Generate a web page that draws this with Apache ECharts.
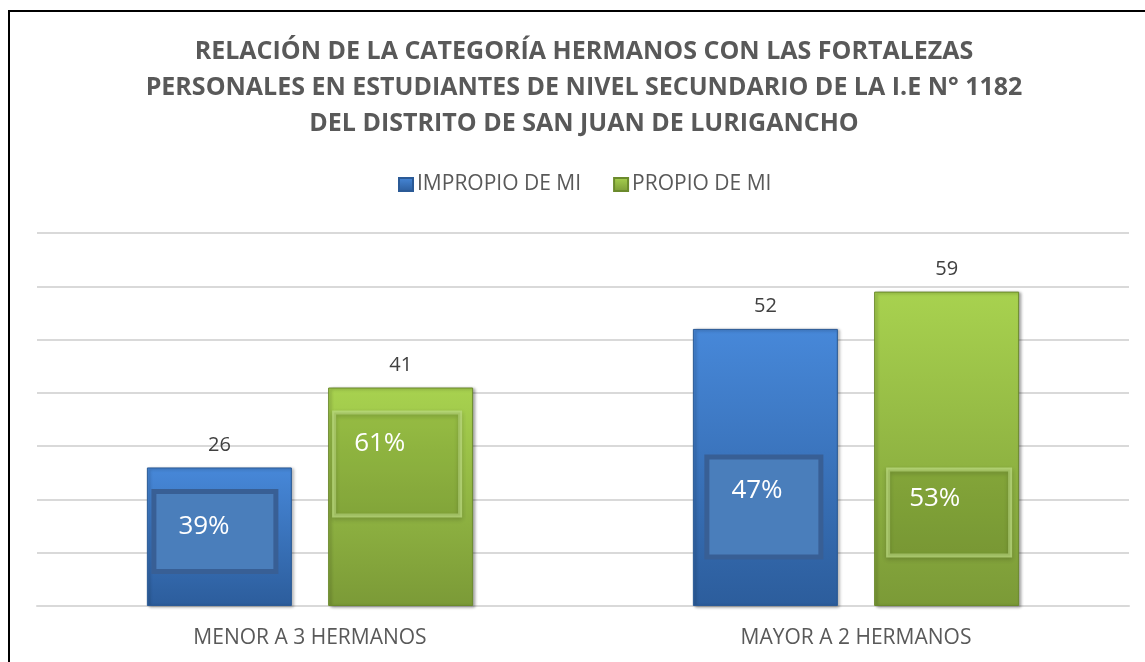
<!DOCTYPE html>
<html>
<head>
    <meta charset="UTF-8">
    <title>Hermanos y fortalezas personales</title>
    <script src="https://cdn.jsdelivr.net/npm/echarts@6/dist/echarts.min.js"></script>
    <style>
        html, body { margin: 0; padding: 0; background: #fff; }
    </style>
</head>
<body>
<div id="main" style="width: 1145px;height:662px;"></div>
<script type="text/javascript">
    // datos
    const categorias = ['MENOR A 3 HERMANOS', 'MAYOR A 2 HERMANOS'];
    const impropio = [26, 52];
    const propio = [41, 59];
    const impropioPct = ['39%', '47%'];
    const propioPct = ['61%', '53%'];

    // cajas de porcentaje (posicion relativa a la barra)
    const cajasImpropio = [
        {pos: [7, 24], w: 122, h: 80, pad: [18, 0, 0, 22]},
        {pos: [14, 128], w: 114, h: 100, pad: [16, 0, 0, 22]}
    ];
    const cajasPropio = [
        {pos: [5, 24], w: 128, h: 105, pad: [16, 0, 0, 20]},
        {pos: [13, 177], w: 124, h: 88, pad: [14, 0, 0, 21]}
    ];

    const FONT = '"Open Sans", "Noto Sans", sans-serif';

    function grad(top, bottom) {
        return new echarts.graphic.LinearGradient(0, 0, 0, 1, [
            {offset: 0, color: top},
            {offset: 1, color: bottom}
        ]);
    }

    function datosConCaja(valores, cajas, bw) {
        return valores.map((v, i) => {
            let c = cajas[i];
            return {
                value: v,
                label: {
                    position: [c.pos[0] + bw / 2, c.pos[1] + bw / 2],
                    width: c.w - bw - c.pad[1] - c.pad[3],
                    height: c.h - bw - c.pad[0] - c.pad[2],
                    padding: c.pad
                }
            };
        });
    }

    function etiquetasArriba(valores) {
        return valores.map((v, i) => ({coord: [i, v], value: v}));
    }

    var myChart = echarts.init(document.getElementById('main'));

    let option = {
        animation: false,
        backgroundColor: '#ffffff',
        textStyle: {fontFamily: FONT},
        graphic: [{
            type: 'rect',
            shape: {x: 9, y: 11, width: 1200, height: 700},
            style: {fill: 'none', stroke: '#000', lineWidth: 2},
            silent: true
        }],
        title: {
            text: 'RELACIÓN DE LA CATEGORÍA HERMANOS CON LAS FORTALEZAS\nPERSONALES EN ESTUDIANTES DE NIVEL SECUNDARIO DE LA I.E N° 1182\nDEL DISTRITO DE SAN JUAN DE LURIGANCHO',
            left: 584,
            top: 34,
            padding: 0,
            textAlign: 'center',
            textStyle: {
                fontFamily: FONT,
                fontWeight: 'bold',
                fontSize: 25,
                lineHeight: 36,
                color: '#595959'
            }
        },
        legend: {
            data: ['IMPROPIO DE MI', 'PROPIO DE MI'],
            left: 398,
            top: 174,
            padding: 0,
            itemWidth: 14,
            itemHeight: 13,
            itemGap: 32,
            icon: 'rect',
            textStyle: {fontFamily: FONT, fontSize: 21, color: '#595959', padding: [0, 0, 0, -1]}
        },
        grid: {left: 37, right: 16, top: 233, bottom: 56, containLabel: false},
        xAxis: {
            type: 'category',
            data: categorias,
            axisLine: {show: true, lineStyle: {color: '#d9d9d9', width: 2}},
            axisTick: {show: false},
            axisLabel: {fontFamily: FONT, fontSize: 21, color: '#595959', margin: 22}
        },
        yAxis: {
            type: 'value',
            min: 0,
            max: 70,
            interval: 10,
            axisLabel: {show: false},
            axisLine: {show: false},
            axisTick: {show: false},
            splitLine: {lineStyle: {color: '#d9d9d9', width: 2}}
        },
        series: [
            {
                name: 'IMPROPIO DE MI',
                type: 'bar',
                barWidth: 145,
                barGap: '25%',
                data: datosConCaja(impropio, cajasImpropio, 5),
                itemStyle: {
                    color: grad('#4788d9', '#2c5d9c'),
                    borderColor: '#2b5a96',
                    borderWidth: 1,
                    shadowColor: 'rgba(0,0,0,0.35)',
                    shadowBlur: 3,
                    shadowOffsetX: 2,
                    shadowOffsetY: 1
                },
                label: {
                    show: true,
                    formatter: p => impropioPct[p.dataIndex],
                    fontFamily: FONT,
                    fontSize: 26,
                    lineHeight: 30,
                    color: '#ffffff',
                    align: 'left',
                    verticalAlign: 'top',
                    backgroundColor: '#4a7ebb',
                    borderColor: '#385f95',
                    borderWidth: 5
                },
                markPoint: {
                    symbol: 'rect',
                    symbolSize: 1,
                    itemStyle: {color: 'rgba(0,0,0,0)'},
                    label: {
                        show: true,
                        position: 'top',
                        distance: 12,
                        formatter: p => p.value,
                        fontFamily: FONT,
                        fontSize: 20,
                        color: '#404040'
                    },
                    data: etiquetasArriba(impropio)
                }
            },
            {
                name: 'PROPIO DE MI',
                type: 'bar',
                barWidth: 145,
                barGap: '25%',
                data: datosConCaja(propio, cajasPropio, 2),
                itemStyle: {
                    color: grad('#a8d24f', '#7b9a37'),
                    borderColor: '#6b8a2c',
                    borderWidth: 1,
                    shadowColor: 'rgba(0,0,0,0.35)',
                    shadowBlur: 3,
                    shadowOffsetX: 2,
                    shadowOffsetY: 1
                },
                label: {
                    show: true,
                    formatter: p => propioPct[p.dataIndex],
                    fontFamily: FONT,
                    fontSize: 26,
                    lineHeight: 30,
                    color: '#ffffff',
                    align: 'left',
                    verticalAlign: 'top',
                    backgroundColor: 'rgba(70,100,10,0.10)',
                    borderColor: 'rgba(190,220,130,0.75)',
                    borderWidth: 2,
                    shadowColor: 'rgba(0,0,0,0.25)',
                    shadowBlur: 4,
                    shadowOffsetY: 2
                },
                markPoint: {
                    symbol: 'rect',
                    symbolSize: 1,
                    itemStyle: {color: 'rgba(0,0,0,0)'},
                    label: {
                        show: true,
                        position: 'top',
                        distance: 12,
                        formatter: p => p.value,
                        fontFamily: FONT,
                        fontSize: 20,
                        color: '#404040'
                    },
                    data: etiquetasArriba(propio)
                }
            }
        ]
    };

    myChart.setOption(option);
</script>
</body>
</html>
